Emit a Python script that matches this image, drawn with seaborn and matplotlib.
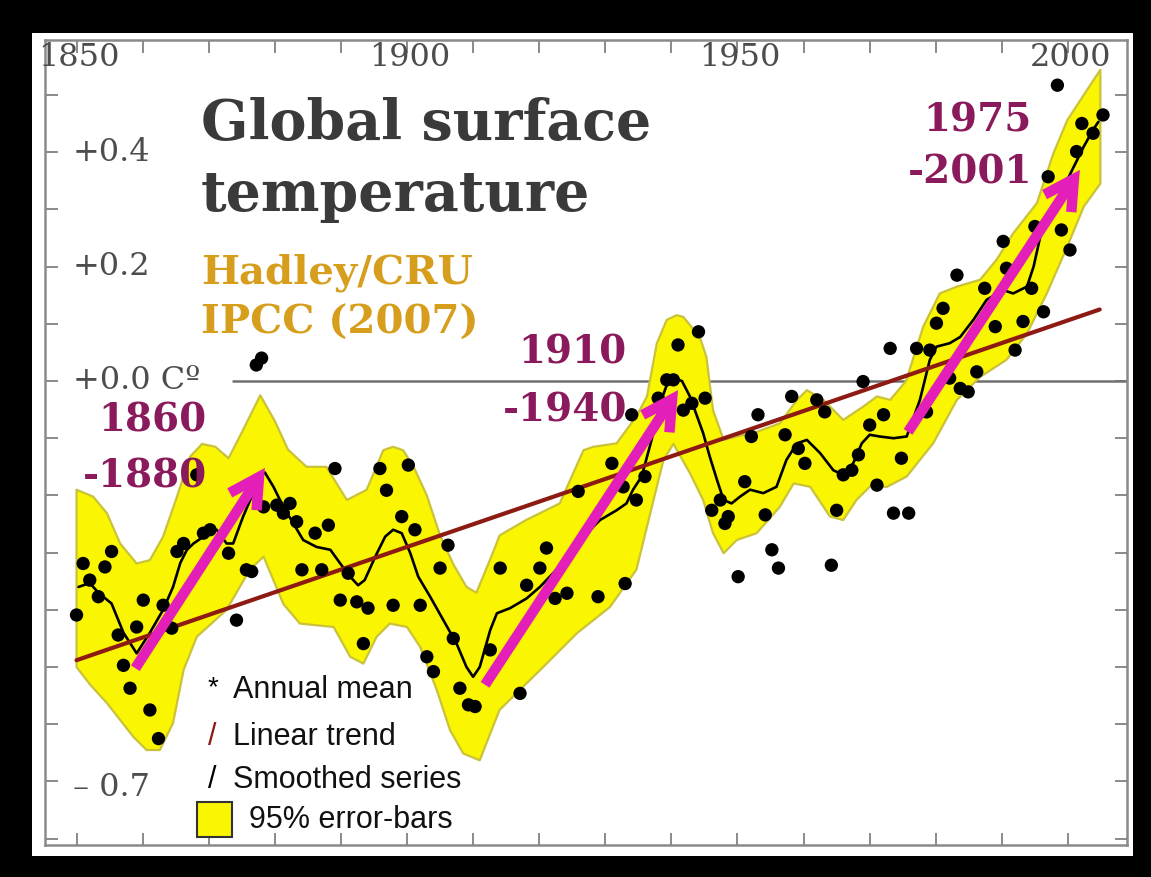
import numpy as np
import pandas as pd
import matplotlib
matplotlib.use("Agg")
import matplotlib.pyplot as plt
import matplotlib.transforms as mtrans
from matplotlib.patches import Rectangle
from matplotlib import font_manager
import seaborn as sns

# ---------------- data ----------------
dot_years = [1850.0, 1851.0, 1852.0, 1853.3, 1854.3, 1855.3, 1856.3, 1857.1, 1858.1, 1859.1,
             1860.1, 1861.1, 1862.4, 1863.1, 1864.4, 1865.2, 1866.2, 1868.2, 1869.2, 1870.2,
             1873.0, 1874.2, 1875.7, 1876.5, 1877.2, 1878.0, 1878.3, 1880.3, 1881.3, 1882.3,
             1883.3, 1884.1, 1886.1, 1887.1, 1888.1, 1889.1, 1889.9, 1891.1, 1892.4, 1893.4,
             1894.1, 1895.9, 1896.9, 1897.9, 1899.2, 1900.2, 1901.2, 1902.0, 1903.0, 1904.0,
             1905.0, 1906.2, 1907.0, 1908.0, 1909.3, 1910.3, 1912.6, 1914.1, 1917.1, 1918.1,
             1920.1, 1921.1, 1922.4, 1924.2, 1925.9, 1928.9, 1931.0, 1932.7, 1933.0, 1934.0,
             1934.7, 1936.0, 1938.0, 1939.3, 1940.3, 1941.0, 1941.8, 1943.1, 1944.1, 1945.1,
             1946.1, 1947.4, 1948.1, 1948.6, 1950.1, 1951.1, 1952.1, 1953.1, 1954.2, 1955.2,
             1956.2, 1957.2, 1958.2, 1959.2, 1960.2, 1962.0, 1963.2, 1964.2, 1965.0, 1966.0,
             1967.3, 1968.3, 1969.0, 1970.0, 1971.1, 1972.1, 1973.1, 1973.6, 1974.8, 1975.9,
             1977.1, 1978.6, 1979.1, 1980.1, 1981.1, 1982.1, 1983.2, 1983.7, 1984.9, 1986.2,
             1987.4, 1989.0, 1990.2, 1990.7, 1992.0, 1993.2, 1994.5, 1995.0, 1996.3, 1997.0,
             1998.4, 1999.0, 2000.3, 2001.3, 2002.1, 2003.8, 2005.3]
dot_values = [-0.409, -0.319, -0.348, -0.377, -0.325, -0.298, -0.444, -0.497, -0.537, -0.430,
              -0.383, -0.575, -0.625, -0.392, -0.432, -0.298, -0.284, -0.164, -0.266, -0.260,
              -0.301, -0.418, -0.330, -0.333, 0.028, 0.040, -0.220, -0.217, -0.231, -0.214,
              -0.246, -0.330, -0.266, -0.330, -0.252, -0.153, -0.383, -0.336, -0.386, -0.459,
              -0.397, -0.153, -0.191, -0.392, -0.237, -0.147, -0.260, -0.392, -0.482, -0.508,
              -0.327, -0.287, -0.450, -0.537, -0.566, -0.569, -0.470, -0.327, -0.546, -0.357,
              -0.327, -0.292, -0.380, -0.371, -0.193, -0.377, -0.144, -0.185, -0.354, -0.059,
              -0.208, -0.167, -0.030, 0.002, 0.002, 0.063, -0.051, -0.039, 0.086, -0.030,
              -0.226, -0.208, -0.249, -0.237, -0.342, -0.176, -0.097, -0.059, -0.234, -0.295,
              -0.327, -0.094, -0.027, -0.118, -0.144, -0.033, -0.054, -0.322, -0.226, -0.164,
              -0.156, -0.129, -0.001, -0.077, -0.182, -0.059, 0.057, -0.231, -0.135, -0.231,
              0.057, -0.054, 0.054, 0.101, 0.127, 0.005, 0.185, -0.013, -0.019, 0.016,
              0.162, 0.095, 0.244, 0.197, 0.054, 0.104, 0.162, 0.270, 0.121, 0.357,
              0.517, 0.264, 0.229, 0.401, 0.450, 0.433, 0.465]

smooth_years = [1850.3, 1852.0, 1853.3, 1855.3, 1857.1, 1859.1, 1861.1, 1863.1, 1864.6, 1865.7,
                1866.7, 1867.7, 1869.2, 1871.2, 1872.7, 1873.7, 1875.2, 1876.5, 1877.8, 1878.5,
                1879.8, 1881.3, 1882.8, 1884.3, 1886.3, 1888.4, 1889.9, 1891.4, 1892.6, 1893.6,
                1895.2, 1896.7, 1897.9, 1899.2, 1900.5, 1901.7, 1903.5, 1905.5, 1907.5, 1909.0,
                1910.0, 1911.0, 1912.6, 1913.6, 1915.6, 1918.1, 1920.1, 1922.6, 1925.2, 1927.2,
                1929.2, 1931.7, 1933.2, 1934.2, 1935.5, 1937.0, 1938.3, 1939.3, 1940.3, 1941.6,
                1942.8, 1944.8, 1945.8, 1946.9, 1947.9, 1949.1, 1950.4, 1951.9, 1953.9, 1955.9,
                1957.4, 1959.0, 1960.5, 1962.5, 1964.5, 1966.0, 1967.5, 1968.8, 1970.0, 1971.5,
                1973.6, 1975.6, 1977.6, 1979.1, 1980.1, 1982.1, 1983.7, 1985.7, 1987.7, 1990.2,
                1991.7, 1993.8, 1994.8, 1995.8, 1996.8, 1998.9, 2000.9, 2002.4, 2003.8, 2004.6]
smooth_values = [-0.36, -0.353, -0.37, -0.389, -0.44, -0.476, -0.44, -0.40, -0.36, -0.318,
                 -0.295, -0.284, -0.272, -0.26, -0.284, -0.284, -0.237, -0.202, -0.167, -0.160,
                 -0.185, -0.22, -0.249, -0.278, -0.29, -0.295, -0.319, -0.342, -0.357, -0.348,
                 -0.307, -0.272, -0.26, -0.266, -0.301, -0.342, -0.377, -0.418, -0.459, -0.50,
                 -0.517, -0.50, -0.435, -0.406, -0.397, -0.38, -0.36, -0.33, -0.295, -0.266,
                 -0.243, -0.226, -0.214, -0.19, -0.167, -0.103, -0.039, -0.007, 0.005, 0.0,
                 -0.027, -0.091, -0.132, -0.173, -0.208, -0.214, -0.202, -0.19, -0.196, -0.185,
                 -0.138, -0.109, -0.103, -0.126, -0.156, -0.164, -0.144, -0.109, -0.094, -0.097,
                 -0.10, -0.097, -0.033, 0.037, 0.06, 0.066, 0.077, 0.107, 0.142, 0.159,
                 0.153, 0.165, 0.20, 0.252, 0.287, 0.328, 0.375, 0.41, 0.439, 0.453]

upper_years = [1850.0, 1852.5, 1854.6, 1856.6, 1859.1, 1861.1, 1863.1, 1865.2, 1867.2, 1869.0,
               1871.0, 1873.0, 1875.0, 1877.8, 1880.0, 1882.0, 1884.8, 1887.8, 1890.9, 1893.9,
               1896.4, 1897.9, 1899.4, 1901.0, 1903.0, 1905.0, 1907.0, 1909.0, 1910.5, 1913.0,
               1914.0, 1918.0, 1923.1, 1926.7, 1928.2, 1931.7, 1934.7, 1936.3, 1937.8, 1939.3,
               1940.8, 1941.8, 1944.3, 1945.3, 1946.3, 1947.9, 1949.9, 1952.9, 1956.4, 1959.0,
               1960.5, 1963.0, 1966.0, 1969.0, 1971.1, 1973.1, 1975.5, 1978.1, 1980.6, 1983.2,
               1986.7, 1989.2, 1991.7, 1995.3, 1997.8, 1999.9, 2002.9, 2004.9]
upper_values = [-0.19, -0.202, -0.231, -0.284, -0.319, -0.313, -0.272, -0.202, -0.132, -0.11,
                -0.115, -0.135, -0.09, -0.025, -0.07, -0.12, -0.15, -0.15, -0.208, -0.19,
                -0.121, -0.115, -0.121, -0.15, -0.20, -0.27, -0.32, -0.36, -0.37, -0.30,
                -0.27, -0.243, -0.214, -0.121, -0.115, -0.109, -0.062, -0.027, 0.066, 0.107,
                0.115, 0.112, 0.077, 0.042, -0.051, -0.103, -0.097, -0.089, -0.074, -0.033,
                -0.016, -0.033, -0.068, -0.045, -0.027, -0.033, 0.0, 0.095, 0.153, 0.165,
                0.177, 0.212, 0.258, 0.311, 0.398, 0.456, 0.509, 0.544]

lower_years = [1850.0, 1852.0, 1854.6, 1858.6, 1860.6, 1862.6, 1864.6, 1866.2, 1868.2, 1872.7,
               1876.2, 1878.3, 1881.3, 1883.8, 1888.9, 1891.4, 1893.4, 1895.4, 1897.4, 1900.0,
               1902.0, 1904.5, 1906.5, 1908.5, 1911.0, 1914.0, 1920.6, 1925.7, 1930.7, 1934.7,
               1937.3, 1938.8, 1940.3, 1942.8, 1944.8, 1946.3, 1947.9, 1949.9, 1952.9, 1956.4,
               1958.5, 1961.0, 1964.0, 1966.0, 1968.0, 1970.0, 1972.6, 1975.6, 1979.6, 1983.2,
               1986.7, 1990.7, 1993.8, 1996.8, 1999.9, 2002.4, 2004.9]
lower_values = [-0.50, -0.53, -0.563, -0.622, -0.645, -0.645, -0.598, -0.505, -0.447, -0.40,
                -0.33, -0.307, -0.39, -0.424, -0.43, -0.482, -0.494, -0.447, -0.424, -0.43,
                -0.465, -0.54, -0.61, -0.651, -0.663, -0.575, -0.50, -0.441, -0.395, -0.33,
                -0.208, -0.138, -0.11, -0.161, -0.208, -0.266, -0.301, -0.278, -0.266, -0.22,
                -0.179, -0.185, -0.237, -0.243, -0.208, -0.185, -0.185, -0.167, -0.109, -0.033,
                0.007, 0.037, 0.083, 0.153, 0.235, 0.305, 0.345]

trend_years = [1850.0, 2004.8]
trend_values = [-0.488, 0.125]

arrow_tail_years = [1858.9, 1911.8, 1975.8]
arrow_tail_values = [-0.502, -0.531, -0.089]
arrow_head_years = [1878.5, 1941.0, 2001.8]
arrow_head_values = [-0.152, -0.016, 0.369]

period_first = ["1860", "1910", "1975"]
period_second = ["-1880", "-1940", "-2001"]

top_tick_years = [1850, 1900, 1950, 2000]
top_tick_labels = ["1850", "1900", "1950", "2000"]
y_tick_values = [0.4, 0.2, 0.0, -0.7]
y_tick_labels = ["+0.4", "+0.2", "+0.0 Cº", "\u2013 0.7"]

title_lines = ["Global surface", "temperature"]
source_lines = ["Hadley/CRU", "IPCC (2007)"]
legend_labels = ["Annual mean", "Linear trend", "Smoothed series", "95% error-bars"]

# ---------------- style ----------------
sns.set_style("white")
plt.rcParams["font.family"] = ["DejaVu Serif", "DejaVu Sans"]
available = {f.name for f in font_manager.fontManager.ttflist}
if "Liberation Sans Narrow" in available:
    sans_font, sans_size = "Liberation Sans Narrow", 26
else:
    sans_font, sans_size = "Liberation Sans", 22

YELLOW = "#FAF500"
BAND_EDGE = "#C9C23A"
TREND = "#8E1A14"
MAGENTA = "#E41EB9"
PURPLE = "#8A1A5C"
GOLD = "#D69E1C"
TITLE = "#3A3A3A"
AXIS_GRAY = "#8A8A8A"
LABEL_GRAY = "#4d4d4d"

W, H = 1151, 877
fig = plt.figure(figsize=(W / 100, H / 100), dpi=100)
fig.patch.set_facecolor("black")
fig.add_artist(Rectangle((32 / W, (H - 856) / H), 1101 / W, 823 / H,
                         transform=fig.transFigure, facecolor="white",
                         edgecolor="none", zorder=-5))

ax_l, ax_r, ax_t, ax_b = 45, 1127, 40, 845
ax = fig.add_axes([ax_l / W, (H - ax_b) / H, (ax_r - ax_l) / W, (ax_b - ax_t) / H])
ax.set_facecolor("white")
ax.set_xlim(1845.23, 2008.93)
ax.set_ylim(-0.811, 0.596)

def fx(px):
    return (px - ax_l) / (ax_r - ax_l)

def fy(py):
    return (ax_b - py) / (ax_b - ax_t)

# zero line (under the band)
ax.axhline(0.0, xmin=fx(233), xmax=1, color="#707070", lw=1.8, zorder=1)

# error band
band_x = np.concatenate([upper_years, lower_years[::-1]])
band_y = np.concatenate([upper_values, lower_values[::-1]])
ax.fill(band_x, band_y, facecolor=YELLOW, edgecolor=BAND_EDGE, lw=1.6,
        joinstyle="round", zorder=2)

# smoothed series
sns.lineplot(x=smooth_years, y=smooth_values, ax=ax, color="black", lw=1.9,
             estimator=None, sort=False, zorder=4)
# linear trend
sns.lineplot(x=trend_years, y=trend_values, ax=ax, color=TREND, lw=3.0,
             estimator=None, sort=False, zorder=5)
# annual means
sns.scatterplot(x=dot_years, y=dot_values, ax=ax, color="black", s=92,
                edgecolor="none", linewidth=0, zorder=6)

# arrows
for tx, ty, hx, hy in zip(arrow_tail_years, arrow_tail_values,
                          arrow_head_years, arrow_head_values):
    ax.annotate("", xy=(hx, hy), xytext=(tx, ty),
                arrowprops=dict(arrowstyle="->,head_length=2.1,head_width=1.15",
                                color=MAGENTA, lw=7.5, shrinkA=0, shrinkB=0,
                                capstyle="butt", joinstyle="miter"),
                zorder=7)

# period labels (right-aligned)
period_right_px = [207, 627, 1032]
period_y1_px = [420, 352, 120]
period_y2_px = [477, 410, 173]
for t1, t2, rx, y1, y2 in zip(period_first, period_second, period_right_px,
                              period_y1_px, period_y2_px):
    ax.text(fx(rx), fy(y1), t1, transform=ax.transAxes, ha="right", va="center",
            fontsize=28, fontweight="bold", color=PURPLE, zorder=8)
    ax.text(fx(rx), fy(y2), t2, transform=ax.transAxes, ha="right", va="center",
            fontsize=28, fontweight="bold", color=PURPLE, zorder=8)

# title and source
ax.text(fx(201), fy(140), title_lines[0], transform=ax.transAxes, ha="left",
        va="baseline", fontsize=40, fontweight="bold", color=TITLE, zorder=8)
ax.text(fx(201), fy(211), title_lines[1], transform=ax.transAxes, ha="left",
        va="baseline", fontsize=40, fontweight="bold", color=TITLE, zorder=8)
ax.text(fx(201), fy(283), source_lines[0], transform=ax.transAxes, ha="left",
        va="baseline", fontsize=29, fontweight="bold", color=GOLD, zorder=8)
ax.text(fx(201), fy(334), source_lines[1], transform=ax.transAxes, ha="left",
        va="baseline", fontsize=29, fontweight="bold", color=GOLD, zorder=8)

# ticks
ax.set_xticks(np.arange(1850, 2001, 10))
ax.set_yticks(np.round(np.arange(-0.8, 0.51, 0.1), 1))
ax.tick_params(axis="both", which="both", direction="in", length=9, width=1.4,
               color=AXIS_GRAY, top=True, right=True, bottom=True, left=True,
               labelbottom=False, labelleft=False, labeltop=False, labelright=False)
for sp in ax.spines.values():
    sp.set_color(AXIS_GRAY)
    sp.set_linewidth(1.8)

top_tr = mtrans.blended_transform_factory(ax.transData, ax.transAxes)
for yr, lab in zip(top_tick_years, top_tick_labels):
    ax.text(yr + 0.4, fy(57), lab, transform=top_tr, ha="center", va="center",
            fontsize=23, color=LABEL_GRAY, zorder=8)

left_tr = mtrans.blended_transform_factory(ax.transAxes, ax.transData)
for v, lab in zip(y_tick_values, y_tick_labels):
    ax.text(fx(73), v - (0.01 if v < -0.5 else 0.0), lab, transform=left_tr,
            ha="left", va="center", fontsize=23, color=LABEL_GRAY, zorder=8)

# legend block
leg_y = [690, 737, 780, 820]
ax.text(fx(208), fy(688), "*", transform=ax.transAxes, ha="left", va="center",
        fontsize=20, family=sans_font, color="black", zorder=8)
ax.text(fx(208), fy(737), "/", transform=ax.transAxes, ha="left", va="center",
        fontsize=sans_size, family=sans_font, color=TREND, zorder=8)
ax.text(fx(208), fy(780), "/", transform=ax.transAxes, ha="left", va="center",
        fontsize=sans_size, family=sans_font, color="black", zorder=8)
ax.add_patch(Rectangle((fx(197), fy(837)), fx(232) - fx(197), fy(802) - fy(837),
                       transform=ax.transAxes, facecolor=YELLOW, edgecolor="#333333",
                       lw=1.5, zorder=8))
leg_x = [233, 233, 233, 249]
for lab, lx, ly in zip(legend_labels, leg_x, leg_y):
    ax.text(fx(lx), fy(ly), lab, transform=ax.transAxes, ha="left", va="center",
            fontsize=sans_size, family=sans_font, color="#111111", zorder=8)

fig.savefig("out.png", dpi=100, facecolor="black")
